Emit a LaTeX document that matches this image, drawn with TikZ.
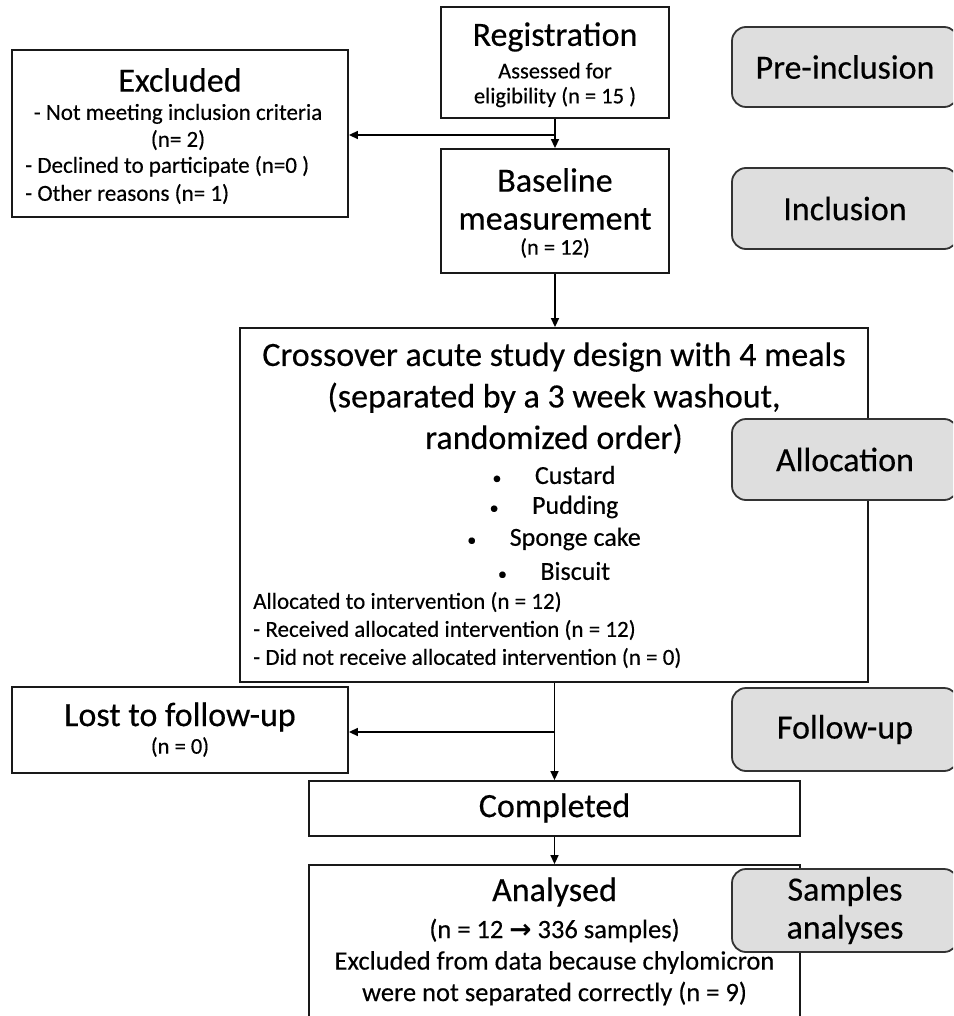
\documentclass[tikz,border=0pt]{standalone}
\usepackage{fontspec}
\setmainfont{Carlito}[FakeBold=0.35]
\newfontfamily\arrowfont{DejaVu Sans}
\usetikzlibrary{arrows.meta}

\tikzset{
  box/.style={draw=black!90, line width=1.8pt, fill=white, inner sep=0pt},
  stage/.style={draw=black!80, line width=1.8pt, fill=black!13, rounded corners=14pt,
    inner sep=0pt, minimum width=226pt, font=\fontsize{34}{38}\selectfont, align=center},
  head/.style={inner sep=0pt, font=\fontsize{34}{38}\selectfont, align=center},
  note/.style={inner sep=0pt, font=\fontsize{22.5}{25}\selectfont, align=center},
  item/.style={inner sep=0pt, font=\fontsize{26}{30}\selectfont},
  flow/.style={line width=1.5pt, -{Triangle[length=9pt,width=8pt]}}
}
\newcommand{\dotmark}{{\fontsize{18}{20}\selectfont\textbullet}\hspace{33.5pt}}

\begin{document}
\begin{tikzpicture}[x=1pt,y=-1pt]
\useasboundingbox (0,0) rectangle (953,1016);
\clip (0,0) rectangle (953,1016);

% flow boxes
\node[box, minimum width=228pt, minimum height=111pt] (reg) at (555,62.5) {};
\node[box, minimum width=336pt, minimum height=167pt] (excl) at (180,133.5) {};
\node[box, minimum width=228pt, minimum height=124pt] (base) at (555,211) {};
\node[box, minimum width=628pt, minimum height=354pt] (cross) at (554,505) {};
\node[box, minimum width=336pt, minimum height=86pt] (lost) at (180,730) {};
\node[box, minimum width=491pt, minimum height=55pt] (done) at (554.5,808.5) {};
\node[box, minimum width=491pt, minimum height=180pt] (anal) at (554.5,955) {};

% texts
\node[head] (regT) at (555,37) {Registration};
\node[note] (regN) at (555,85) {Assessed for\\eligibility (n = 15 )};

\node[head] (exclT) at (180,80) {Excluded};
\node[note, font=\fontsize{23}{27}\selectfont] (exclA) at (178,127) {- Not meeting inclusion criteria\\(n= 2)};
\node[note, font=\fontsize{23}{28}\selectfont, align=left, anchor=west] (exclB) at (25,180)
  {- Declined to participate (n=0 )\\- Other reasons (n= 1)};

\node[head] (baseT) at (555,199) {Baseline\\measurement};
\node[note] (baseN) at (555,248) {(n = 12)};

\node[head, font=\fontsize{34}{41.5}\selectfont] (crossT) at (554,398)
  {Crossover acute study design with 4 meals\\(separated by a 3 week washout,\\randomized order)};
\foreach \meal/\y [count=\i] in {Custard/475, Pudding/507, Sponge cake/539, Biscuit/571}
  \node[item] (meal\i) at (554,\y) {\dotmark\meal};
\node[note, font=\fontsize{23}{28}\selectfont, align=left, anchor=west] (alloc) at (253,630)
  {Allocated to intervention (n = 12)\\- Received allocated intervention (n = 12)\\- Did not receive allocated intervention (n = 0)};

\node[head] (lostT) at (180,717) {Lost to follow-up};
\node[note] (lostN) at (180,747) {(n = 0)};

\node[head] (doneT) at (554.5,808) {Completed};

\node[head] (analT) at (554.5,892) {Analysed};
\node[note, font=\fontsize{26.5}{31.5}\selectfont] (analN) at (554.5,962)
  {(n = 12 {\arrowfont\bfseries →} 336 samples)\\Excluded from data because chylomicron\\were not separated correctly (n = 9)};

% stages
\node[stage, minimum height=80pt] (pre) at (845,67) {Pre-inclusion};
\node[stage, minimum height=81pt] (incl) at (845,208.5) {Inclusion};
\node[stage, minimum height=81pt] (allo) at (845,459.5) {Allocation};
\node[stage, minimum height=83pt] (follow) at (845,729.5) {Follow-up};
\node[stage, minimum height=83pt] (samp) at (845,910.5) {Samples\\analyses};

% connectors
\coordinate (forkA) at (555,135);
\coordinate (forkB) at (555,732);
\draw[flow] (reg) -- (base);
\draw[flow] (forkA) -- (forkA -| excl.east);
\draw[flow] (base.south) -- (base.south |- cross.north);
\draw[flow] (cross.south -| done.north) -- (done.north);
\draw[flow] (forkB) -- (forkB -| lost.east);
\draw[flow] (done) -- (anal);
\end{tikzpicture}
\end{document}
